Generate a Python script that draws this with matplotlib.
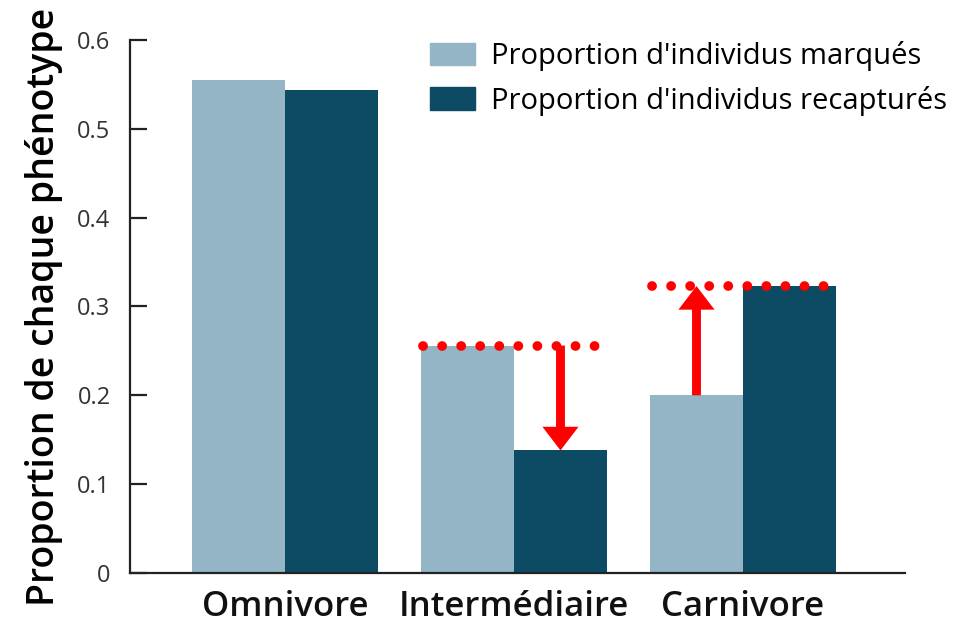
import matplotlib
matplotlib.use("Agg")
import matplotlib.pyplot as plt
import numpy as np
from matplotlib.patches import Patch

categories = ["Omnivore", "Intermédiaire", "Carnivore"]
marques = [0.555, 0.256, 0.200]
recaptures = [0.544, 0.138, 0.323]
series_labels = ["Proportion d'individus marqués", "Proportion d'individus recapturés"]
yticks = [0, 0.1, 0.2, 0.3, 0.4, 0.5, 0.6]
ytick_labels = ["0", "0.1", "0.2", "0.3", "0.4", "0.5", "0.6"]

light = "#93b5c6"
dark = "#0c4b63"

plt.rcParams['font.family'] = ['Open Sans', 'DejaVu Sans']

fig = plt.figure(figsize=(9.74, 6.23), dpi=100)
ax = fig.add_axes([0.1335, 0.0803, 0.929 - 0.1335, 0.9358 - 0.0803])

x = np.arange(len(categories))
w = 0.406
ax.bar(x - w / 2, marques, w, color=light, label=series_labels[0])
ax.bar(x + w / 2, recaptures, w, color=dark, label=series_labels[1])

ax.set_xlim(-0.677, 2.707)
ax.set_ylim(0, 0.6)
ax.set_yticks(yticks)
ax.set_yticklabels(ytick_labels, fontsize=17, color="#333333")
ax.set_xticks(x)
ax.set_xticklabels(categories, fontsize=25, fontweight="semibold", color="#111111")
ax.tick_params(axis="x", length=0, pad=12)
ax.tick_params(axis="y", direction="in", length=12, width=1.6, pad=14, color="#222222")
for s in ["top", "right"]:
    ax.spines[s].set_visible(False)
for s in ["left", "bottom"]:
    ax.spines[s].set_linewidth(1.6)
    ax.spines[s].set_color("#222222")

ax.set_ylabel("Proportion de chaque phénotype", fontsize=27, fontweight="semibold", labelpad=10)

# Red dotted reference lines and arrows
for i in [1, 2]:
    ref = max(marques[i], recaptures[i])
    ax.plot([x[i] - w * 0.98, x[i] + w * 0.95], [ref, ref], color="red", lw=7,
            linestyle=(0, (0.01, 1.95)), dash_capstyle="round", solid_capstyle="round")

astyle = "simple,head_width=1.3,head_length=0.85,tail_width=0.32"
# Intermédiaire: down arrow above dark bar
ax.annotate("", xy=(x[1] + w / 2, recaptures[1]), xytext=(x[1] + w / 2, marques[1]),
            arrowprops=dict(arrowstyle=astyle, color="red", mutation_scale=20, lw=0,
                            shrinkA=0, shrinkB=0))
# Carnivore: up arrow above light bar
ax.annotate("", xy=(x[2] - w / 2, recaptures[2]), xytext=(x[2] - w / 2, marques[2]),
            arrowprops=dict(arrowstyle=astyle, color="red", mutation_scale=20, lw=0,
                            shrinkA=0, shrinkB=0))

handles = [Patch(color=light), Patch(color=dark)]
leg = ax.legend(handles, series_labels, loc="upper left", bbox_to_anchor=(0.372, 1.02),
                frameon=False, fontsize=21, handlelength=1.55, handleheight=0.8,
                handletextpad=0.55, labelspacing=0.5, borderaxespad=0)

fig.savefig("out.png", dpi=100)
